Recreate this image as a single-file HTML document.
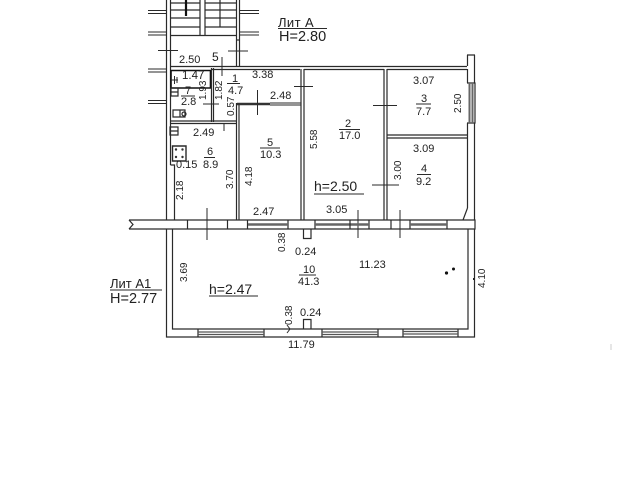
<!DOCTYPE html>
<html><head><meta charset="utf-8"><style>
html,body{margin:0;padding:0;background:#fff;width:621px;height:480px;overflow:hidden}
svg{display:block}
text{font-family:"Liberation Sans",sans-serif;fill:#222;font-size:11px}
.r text{font-size:10px}
</style></head><body>
<svg width="621" height="480" viewBox="0 0 621 480">
<g fill="none" stroke="#2a2a2a" stroke-width="1.2">
<!-- stair block -->
<path d="M166.500 0V220M170.500 0V165M236.500 0V66M239.500 0V66"/>
<path d="M171 3H200M171 10H200M171 18H200M171 27H200M171 35.500H236M205 3H236M205 10H236M205 18H236M205 27H236M200 0V35M205 0V35"/>
<path d="M220 0V27"/>
<path d="M186 0V16" stroke="#111" stroke-width="2.200"/>
<path d="M236 40H239"/>
<!-- wall ticks -->
<path d="M148 10.500H166M148 13.500H166M148 32H166M148 35H166M148 69H166M148 72H166M148 100.500H166M148 103.500H166M240 10.500H259M240 13.500H259M240 32H259M240 35H259" stroke-width="1"/>
<path d="M158 50.500H178M228 51H248M222 57V76" stroke-width="1"/>
<!-- top wall -->
<path d="M170 66.500H467M212 69.500H300M304 69.500H384M387 69.500H467"/>
<path d="M467.500 55V66M474.500 55V83M467 55H475"/>
<path d="M467.500 69V83M467.500 123V208M474.500 123V220M467 83H475V123H467"/>
<path d="M469.500 83V123M472.500 83V123" stroke="#666" stroke-width="2"/>
<path d="M467.500 208L463 220"/>
<!-- bathroom -->
<path d="M171 70.500H210.500V88H171Z" stroke-width="1.600" stroke="#111"/>
<path d="M211.500 68V122M213.500 68V122"/>
<path d="M170 121H236M170 123.500H236"/>
<path d="M171 88H178V96H171ZM171 92H178"/>
<path d="M173 110H185V117H173ZM180 110V117"/>
<circle cx="184" cy="114" r="2"/>
<path d="M174.500 76V84M171 80H178M177 77V83" stroke-width="1"/>
<path d="M203 104H219" stroke-width="1"/>
<!-- room 5 -->
<path d="M236.500 103V220M239 105V220"/>
<path d="M237 104H270" stroke-width="2.400" stroke="#333"/>
<path d="M270 103H301M270 105H301" stroke-width="1"/>
<path d="M257.500 90V115M294 86.500H313" stroke-width="1"/>
<path d="M301 69V220M304 69V220"/>
<path d="M224 123V131" stroke-width="1"/>
<!-- small box and stove -->
<path d="M170 127H178V135H170ZM170 131H178"/>
<path d="M172.500 146H186V161H172.500Z" stroke-width="1.400"/>
<path d="M170.500 165H174.500V220"/>
<!-- rooms right -->
<path d="M384 69V220M387 69V220"/>
<path d="M387 135H467M387 138H467"/>
<path d="M373 105.500H397M372 185H399" stroke-width="1"/>
<!-- horizontal band -->
<path d="M129 220H475V229H129M475 220V229"/>
<path d="M129 220L133 224.500L129 229"/>
<path d="M187.500 220V229M227.500 220V229M247.500 220V229M288 220V229M315 220V229M369 220V229M391 220V229M410 220V229M447 220V229"/>
<path d="M207 208V240M358 210V238M400 210V238" stroke-width="1"/>
<!-- top windows -->
<path d="M248 224.500H288M315 224.500H369M410 224.500H447" stroke="#666" stroke-width="2.600"/>
<path d="M350 220V229"/>
<!-- piers -->
<path d="M303.500 229V238.500H311V229M303.500 329V319.500H311V329"/>
<!-- lower room -->
<path d="M166.500 229V337H474.500V229M172.500 229V329H468V229"/>
<path d="M198 329V337M264 329V337M322 329V337M378 329V337M403 329V337M458 329V337"/>
<path d="M198 332H264M198 334.500H264M322 332H378M322 334.500H378M403 331.500H458M403 334H458" stroke="#555"/>
<path d="M287 325L290 329L287 333" stroke-width="1"/>
<!-- title underlines -->
<path d="M278 28.500H327M110 290H162M209 296H258M314 194H364" stroke-width="1"/>
<!-- frac bars -->
<path d="M227 83.500H240M181 96H195M204 157.500H215M260 148H280M339 129.500H360M416 104H431M417 174.500H431M299 275H316" stroke-width="1"/>
</g>
<!-- stove dots -->
<g fill="#333"><circle cx="176" cy="149.500" r="1.200"/><circle cx="182.500" cy="149.500" r="1.200"/><circle cx="176" cy="157" r="1.200"/><circle cx="182.500" cy="157" r="1.200"/></g>
<!-- dots -->
<circle cx="446.500" cy="273" r="1.600" fill="#111"/><circle cx="453.500" cy="269" r="1.500" fill="#111"/>
<path d="M473 279H474.500" stroke="#222" stroke-width="2"/>
<path d="M611 344V350" stroke="#ccc"/>
<!-- texts -->
<text x="278" y="27" style="font-size:13px;letter-spacing:.4px">Лит  А</text>
<text x="279" y="41" style="font-size:14.500px">H=2.80</text>
<text x="179" y="63">2.50</text>
<text x="212" y="61" style="font-size:12px">5</text>
<text x="252" y="78">3.38</text>
<text x="270" y="99">2.48</text>
<text x="182" y="79" style="font-size:11.500px">1.47</text>
<text x="232" y="82">1</text>
<text x="228" y="94">4.7</text>
<text x="185" y="94">7</text>
<text x="181" y="105">2.8</text>
<text x="193" y="136">2.49</text>
<text x="176" y="168">0.15</text>
<text x="207" y="155">6</text>
<text x="203" y="168">8.9</text>
<text x="267" y="146">5</text>
<text x="260" y="158">10.3</text>
<text x="253" y="215">2.47</text>
<text x="345" y="127">2</text>
<text x="339" y="139">17.0</text>
<text x="326" y="213">3.05</text>
<text x="413" y="84">3.07</text>
<text x="421" y="102">3</text>
<text x="416" y="115">7.7</text>
<text x="413" y="152">3.09</text>
<text x="421" y="172">4</text>
<text x="416" y="185">9.2</text>
<text x="314" y="191" style="font-size:14px">h=2.50</text>
<text x="209" y="294" style="font-size:14px">h=2.47</text>
<text x="303" y="273">10</text>
<text x="298" y="285">41.3</text>
<text x="359" y="268">11.23</text>
<text x="295" y="255">0.24</text>
<text x="300" y="316">0.24</text>
<text x="288" y="348">11.79</text>
<text x="110" y="288" style="font-size:13px">Лит  А1</text>
<text x="110" y="303" style="font-size:14.500px">H=2.77</text>
<g class="r">
<text transform="translate(206,100) rotate(-90)">1.93</text>
<text transform="translate(222,100) rotate(-90)">1.82</text>
<text transform="translate(234,116) rotate(-90)">0.57</text>
<text transform="translate(233,189) rotate(-90)">3.70</text>
<text transform="translate(252,186) rotate(-90)">4.18</text>
<text transform="translate(183,200) rotate(-90)">2.18</text>
<text transform="translate(317,149) rotate(-90)">5.58</text>
<text transform="translate(461,113) rotate(-90)">2.50</text>
<text transform="translate(401,180) rotate(-90)">3.00</text>
<text transform="translate(285,252) rotate(-90)">0.38</text>
<text transform="translate(292,325) rotate(-90)">0.38</text>
<text transform="translate(187,282) rotate(-90)">3.69</text>
<text transform="translate(485,288) rotate(-90)">4.10</text>
</g>
</svg>
</body></html>
